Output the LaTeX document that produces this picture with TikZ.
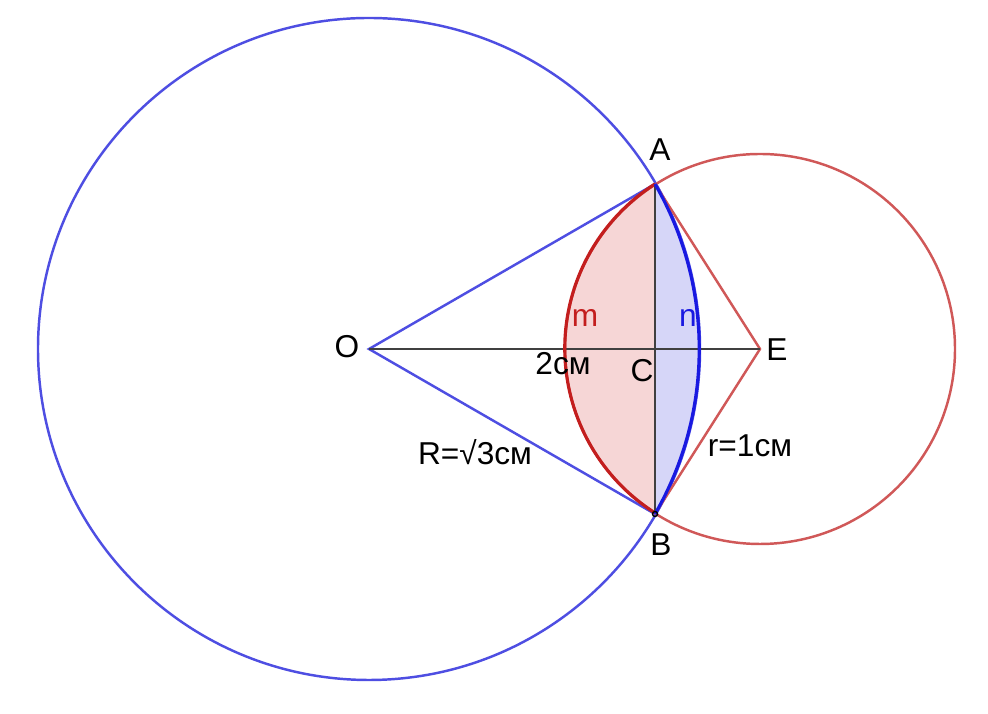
\documentclass[tikz,border=0pt]{standalone}
\usepackage{fontspec}
\setmainfont{Liberation Sans}
\usetikzlibrary{calc}
\definecolor{bigblue}{RGB}{78,78,226}
\definecolor{lensblue}{RGB}{25,25,225}
\definecolor{smallred}{RGB}{208,88,88}
\definecolor{lensred}{RGB}{195,30,30}
\definecolor{pinkfill}{RGB}{246,214,214}
\definecolor{bluefill}{RGB}{214,214,248}
\definecolor{seggray}{RGB}{64,64,64}

\begin{document}
\begin{tikzpicture}[
  lbl/.style={font=\fontsize{9}{10.8}\selectfont, inner sep=0pt},
  blueline/.style={draw=bigblue, line width=0.7pt},
  redline/.style={draw=smallred, line width=0.7pt},
  grayline/.style={draw=seggray, line width=0.75pt},
  lensarc/.style={line width=0.9pt},
]
  \useasboundingbox (-3.69,-3.65) rectangle (6.19,3.49);
  % centres and chord ends
  \coordinate (O) at (0,0);
  \coordinate (E) at (3.91,0);
  \coordinate (A) at (2.86,1.65);
  \coordinate (B) at (2.86,-1.65);
  \coordinate (C) at (2.86,0);

  % the two parts of the lens
  \fill[pinkfill] (A) arc[start angle=122.5, end angle=237.5, radius=1.95] -- cycle;
  \fill[bluefill] (A) arc[start angle=30, end angle=-30, radius=3.30] -- cycle;

  % circles
  \draw[blueline] (O) circle[radius=3.31];
  \draw[redline] (E) circle[radius=1.95];

  % segments
  \draw[blueline] (A) -- (O) -- (B);
  \draw[redline] (A) -- (E) -- (B);
  \draw[grayline] (O) -- (E);
  \draw[grayline] (A) -- (B);

  % lens arcs
  \draw[lensarc, draw=lensred] (A) arc[start angle=122.5, end angle=237.5, radius=1.95];
  \draw[lensarc, draw=lensblue] (A) arc[start angle=30, end angle=-30, radius=3.30];
  \draw[line width=0.4pt] (B) circle[radius=0.025];

  % labels
  \node[lbl] (lA) at (2.91,1.99) {A};
  \node[lbl] (lB) at (2.92,-1.96) {B};
  \node[lbl] (lC) at (2.73,-0.22) {C};
  \node[lbl] (lO) at (-0.22,0.02) {O};
  \node[lbl] (lE) at (4.08,-0.01) {E};
  \node[lbl, text=lensred] (lm) at (2.16,0.31) {m};
  \node[lbl, text=lensblue] (ln) at (3.19,0.31) {n};
  \node[lbl] (lOE) at (1.94,-0.15) {2см};
  \node[lbl] (lR) at (1.06,-1.03) {R=√3см};
  \node[lbl] (lr) at (3.81,-0.97) {r=1см};
\end{tikzpicture}
\end{document}
